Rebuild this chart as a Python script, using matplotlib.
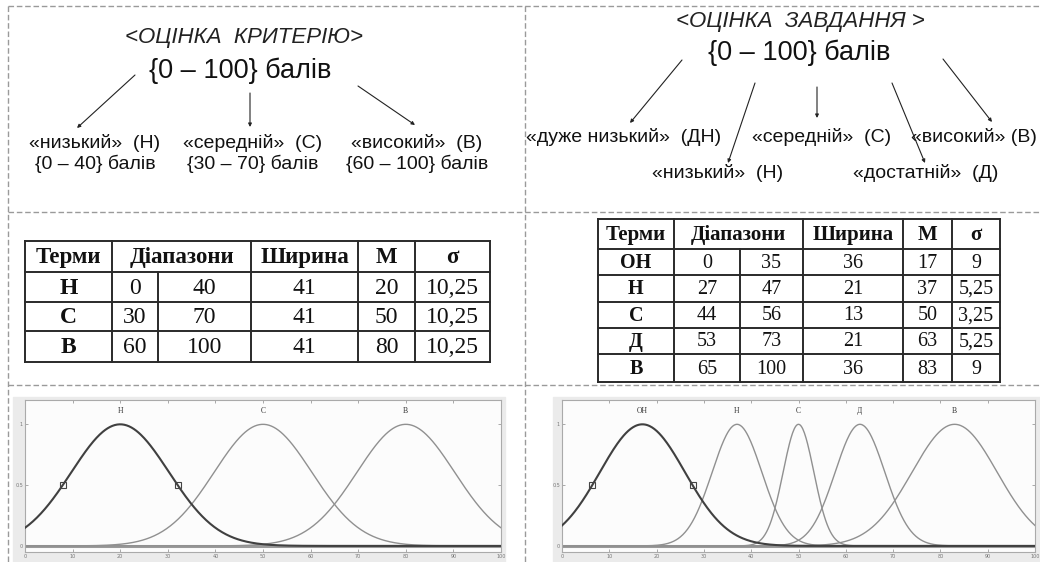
import numpy as np
import matplotlib
matplotlib.use("Agg")
import matplotlib.pyplot as plt
from matplotlib.patches import Rectangle

# ---------------- data ----------------
table_header = ['Терми', 'Діапазони', 'Ширина', 'М', 'σ']

left_terms = ['Н', 'С', 'В']
left_lo = [0, 30, 60]
left_hi = [40, 70, 100]
left_width = [41, 41, 41]
left_M = [20, 50, 80]
left_sigma = [10.25, 10.25, 10.25]
left_names = ['«низький»  (Н)', '«середній»  (С)', '«високий»  (В)']

right_terms = ['ОН', 'Н', 'С', 'Д', 'В']
right_lo = [0, 27, 44, 53, 65]
right_hi = [35, 47, 56, 73, 100]
right_width = [36, 21, 13, 21, 36]
right_M = [17, 37, 50, 63, 83]
right_sigma = [9, 5.25, 3.25, 5.25, 9]
right_names = ['«дуже низький»  (ДН)', '«низький»  (Н)', '«середній»  (С)',
               '«достатній»  (Д)', '«високий» (В)']

left_title = '<ОЦІНКА  КРИТЕРІЮ>'
right_title = '<ОЦІНКА  ЗАВДАННЯ >'
scale_text = '{0 – 100} балів'

x_ticks = list(range(0, 101, 10))
y_ticks = [0, 0.5, 1]
y_ticklabels = ['0', '0.5', '1']

# ---------------- figure ----------------
W, H = 1040, 562
fig = plt.figure(figsize=(W / 100, H / 100), dpi=100)
fig.patch.set_facecolor('white')
bg = fig.add_axes([0, 0, 1, 1])
bg.set_xlim(0, W)
bg.set_ylim(H, 0)
bg.axis('off')

SANS = ['Liberation Sans', 'DejaVu Sans']
SERIF = ['Liberation Serif', 'DejaVu Serif']

# dashed separators
dash = dict(color='#9a9a9a', lw=1.0, ls=(0, (4, 2)))
bg.plot([8, W], [6, 6], **dash)
bg.plot([8, W], [212, 212], **dash)
bg.plot([8, W], [385, 385], **dash)
bg.plot([8, 8], [6, H], **dash)
bg.plot([525, 525], [6, H], **dash)

# ---------------- diagrams ----------------
def arrow(x0, y0, x1, y1):
    bg.annotate('', xy=(x1, y1), xytext=(x0, y0),
                arrowprops=dict(arrowstyle='-|>', mutation_scale=5,
                                lw=0.8, color='#222', shrinkA=0, shrinkB=0))

# left
bg.text(244, 38, left_title, ha='center', va='center', fontsize=16,
        style='italic', family=SANS, color='#222')
bg.text(240, 71, scale_text, ha='center', va='center', fontsize=19.5,
        family=SANS, color='#111')
left_cx = [95, 253, 417]
for cx, name, lo, hi in zip(left_cx, left_names, left_lo, left_hi):
    bg.text(cx, 143, name, ha='center', va='center', fontsize=14,
            family=SANS, color='#111')
    bg.text(cx, 164, '{%d – %d} балів' % (lo, hi), ha='center', va='center',
            fontsize=14, family=SANS, color='#111')
arrow(135, 75, 77, 128)
arrow(250, 93, 250, 127)
arrow(358, 86, 415, 125)

# right
bg.text(800, 22, right_title, ha='center', va='center', fontsize=16,
        style='italic', family=SANS, color='#222')
bg.text(799, 53, scale_text, ha='center', va='center', fontsize=19.5,
        family=SANS, color='#111')
right_pos = [(624, 137, 'center'), (718, 173, 'center'), (822, 137, 'center'),
             (926, 173, 'center'), (1037, 137, 'right')]
for (px, py, ha), name in zip(right_pos, right_names):
    bg.text(px, py, name, ha=ha, va='center', fontsize=14,
            family=SANS, color='#111')
arrow(682, 60, 630, 123)
arrow(755, 83, 728, 163)
arrow(817, 87, 817, 118)
arrow(892, 83, 925, 163)
arrow(943, 59, 992, 122)

# ---------------- tables ----------------
def fmt(v):
    if isinstance(v, float) and v != int(v):
        return ('%g' % v).replace('.', ',')
    return '%d' % v

def draw_table(cols, rows_y, terms, lo, hi, width, M, sigma, hfs, bfs):
    lc = '#2a2a2a'
    lw = 1.4
    x0, x1 = cols[0], cols[-1]
    for y in rows_y:
        bg.plot([x0, x1], [y, y], color=lc, lw=lw)
    for i, x in enumerate(cols):
        if i == 2:
            bg.plot([x, x], [rows_y[1], rows_y[-1]], color=lc, lw=lw)
        else:
            bg.plot([x, x], [rows_y[0], rows_y[-1]], color=lc, lw=lw)
    hy = (rows_y[0] + rows_y[1]) / 2
    hx = [(cols[0] + cols[1]) / 2, (cols[1] + cols[3]) / 2,
          (cols[3] + cols[4]) / 2, (cols[4] + cols[5]) / 2,
          (cols[5] + cols[6]) / 2]
    for x, t in zip(hx, table_header):
        bg.text(x, hy + 1, t, ha='center', va='center', fontsize=hfs,
                fontweight='bold', family=SERIF, color='#111')
    for r in range(len(terms)):
        cy = (rows_y[r + 1] + rows_y[r + 2]) / 2 + 1
        vals = [terms[r], fmt(lo[r]), fmt(hi[r]), fmt(width[r]),
                fmt(M[r]), fmt(sigma[r])]
        for c, v in enumerate(vals):
            cx = (cols[c] + cols[c + 1]) / 2
            bg.text(cx, cy, v, ha='center', va='center', fontsize=bfs,
                    fontweight='bold' if c == 0 else 'normal',
                    family=SERIF, color='#111')

draw_table([25, 112, 158, 251, 358, 415, 490], [241, 272, 302, 331, 362],
           left_terms, left_lo, left_hi, left_width, left_M, left_sigma,
           16.5, 17)
draw_table([598, 674, 740, 803, 903, 952, 1000],
           [219, 249, 275, 302, 328, 354, 382],
           right_terms, right_lo, right_hi, right_width, right_M, right_sigma,
           15, 14.5)

# ---------------- membership plots ----------------
bg.add_patch(Rectangle((13, 397), 492, H - 397, color='#ebebeb', zorder=0))
bg.add_patch(Rectangle((553, 397), W - 553, H - 397, color='#ebebeb', zorder=0))

def mf_plot(rect, terms, M, sigma):
    ax = fig.add_axes(rect)
    ax.set_facecolor('#fcfcfc')
    x = np.linspace(0, 100, 600)
    ax.axhline(0, color='#9a9a9a', lw=2.2, zorder=1)
    for i, (m, s) in enumerate(zip(M, sigma)):
        y = np.exp(-(x - m) ** 2 / (2 * s ** 2))
        if i == 0:
            ax.plot(x, y, color='#404040', lw=1.5, zorder=3)
        else:
            ax.plot(x, y, color='#909090', lw=1.0, zorder=2)
        ax.text(m, 1.075, terms[i], ha='center', va='bottom', fontsize=5.5,
                family=SERIF, color='#333')
    half = np.sqrt(2 * np.log(2)) * sigma[0]
    ax.plot([M[0] - half, M[0] + half], [0.5, 0.5], ls='none', marker='s',
            ms=4, mfc='none', mec='#444', mew=0.8, zorder=4)
    ax.set_xlim(0, 100)
    ax.set_ylim(-0.05, 1.2)
    ax.set_xticks(x_ticks)
    ax.set_xticklabels([str(t) for t in x_ticks])
    ax.set_yticks(y_ticks)
    ax.set_yticklabels(y_ticklabels)
    ax.tick_params(direction='in', top=True, right=True, length=2,
                   width=0.5, color='#888', labelsize=3.5,
                   labelcolor='#777', pad=1.5)
    for sp in ax.spines.values():
        sp.set_color('#aaaaaa')
        sp.set_linewidth(0.8)
    return ax

mf_plot([25 / W, 10 / H, 476 / W, 152 / H], left_terms, left_M, left_sigma)
mf_plot([562 / W, 10 / H, 473 / W, 152 / H], right_terms, right_M, right_sigma)

fig.savefig('out.png', dpi=100, facecolor='white')
